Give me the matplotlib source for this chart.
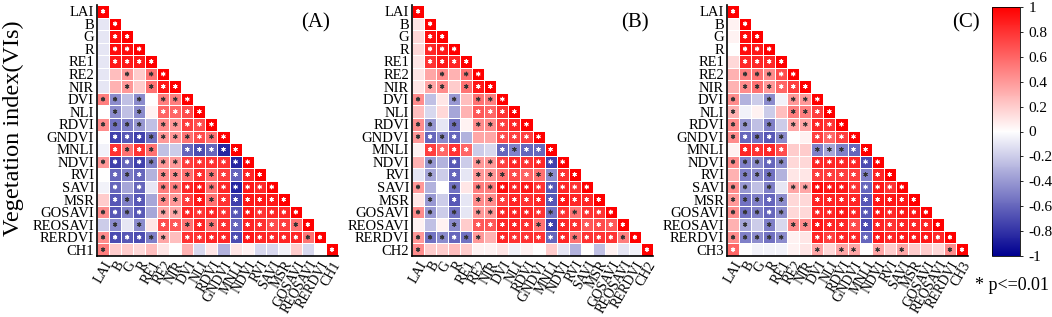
import numpy as np
import matplotlib
matplotlib.use("Agg")
import matplotlib.pyplot as plt
from matplotlib.colors import LinearSegmentedColormap

plt.rcParams['font.family'] = ['Liberation Serif', 'DejaVu Serif']

variables = ['LAI', 'B', 'G', 'R', 'RE1', 'RE2', 'NIR', 'DVI', 'NLI', 'RDVI', 'GNDVI',
             'MNLI', 'NDVI', 'RVI', 'SAVI', 'MSR', 'GOSAVI', 'REOSAVI', 'RERDVI']
ch_names = ['CH1', 'CH2', 'CH3']
panel_tags = ['(A)', '(B)', '(C)']
cbar_ticks = [1, 0.8, 0.6, 0.4, 0.2, 0, -0.2, -0.4, -0.6, -0.8, -1]

# lower-triangle correlations (row i has i values, diagonal = 1)
corr_A = [
    [-0.1],
    [-0.1, 0.95],
    [-0.1, 0.95, 0.95],
    [-0.1, 0.9, 0.9, 0.9],
    [-0.1, 0.25, 0.4, 0.2, 0.55],
    [-0.1, 0.3, 0.4, 0.2, 0.55, 0.9],
    [0.5, -0.45, -0.25, -0.45, 0.0, 0.5, 0.5],
    [0.0, -0.45, -0.25, -0.45, 0.05, 0.6, 0.6, 0.7],
    [0.45, -0.55, -0.5, -0.4, -0.25, 0.45, 0.4, 0.75, 0.7],
    [0.0, -0.75, -0.65, -0.75, -0.55, 0.4, 0.4, 0.55, 0.7, 0.55],
    [-0.05, 0.8, 0.55, 0.8, 0.55, -0.25, -0.2, -0.6, -0.7, -0.6, -0.85],
    [0.4, -0.75, -0.6, -0.75, -0.5, 0.4, 0.4, 0.75, 0.8, 0.8, 0.8, -0.85],
    [0.0, -0.6, -0.5, -0.6, -0.3, 0.45, 0.45, 0.55, 0.8, 0.55, 0.75, -0.6, 0.85],
    [-0.05, -0.6, -0.35, -0.6, -0.1, 0.5, 0.5, 0.85, 0.9, 0.55, 0.85, -0.85, 0.9, 0.85],
    [0.2, -0.65, -0.5, -0.65, -0.35, 0.45, 0.4, 0.75, 0.9, 0.55, 0.8, -0.75, 0.9, 0.9, 0.9],
    [0.45, -0.65, -0.5, -0.65, -0.35, 0.35, 0.35, 0.85, 0.8, 0.85, 0.8, -0.65, 0.9, 0.8, 0.85, 0.85],
    [-0.2, -0.45, -0.1, -0.45, 0.1, 0.7, 0.65, 0.55, 0.85, 0.55, 0.8, -0.6, 0.85, 0.8, 0.7, 0.75, 0.55],
    [0.45, -0.7, -0.65, -0.7, -0.5, 0.35, 0.25, 0.8, 0.8, 0.85, 0.85, -0.7, 0.9, 0.85, 0.85, 0.85, 0.85, 0.55],
    [0.5, 0.2, 0.2, 0.15, 0.25, 0.1, 0.0, 0.3, -0.15, 0.1, -0.3, 0.1, 0.05, -0.15, -0.15, -0.05, 0.2, -0.15, 0.0],
]
sig_A = ["0", "01", "011", "0111", "00101", "001011", "1101011", "01010111", "111101111",
         "0111111111", "01111001111", "111111111111", "0111011111111", "01010111111111",
         "011101111111111", "1111011111111111", "01010111111111111", "111111011111111111",
         "1000000000000000000"]

corr_B = [
    [0.1],
    [0.15, 0.95],
    [0.15, 0.85, 0.9],
    [0.1, 0.8, 0.9, 0.85],
    [0.1, 0.35, 0.45, 0.3, 0.55],
    [0.1, 0.35, 0.45, 0.2, 0.55, 0.9],
    [0.45, -0.25, 0.1, -0.4, 0.25, 0.55, 0.5],
    [0.25, -0.15, 0.15, -0.35, 0.3, 0.65, 0.6, 0.8],
    [0.45, -0.4, -0.1, -0.55, 0.05, 0.45, 0.45, 0.75, 0.85],
    [0.4, -0.6, -0.45, -0.6, -0.3, 0.35, 0.35, 0.7, 0.75, 0.75],
    [0.05, 0.75, 0.6, 0.8, 0.6, -0.2, -0.15, -0.6, -0.5, -0.6, -0.6],
    [0.3, -0.4, -0.3, -0.65, -0.2, 0.4, 0.4, 0.75, 0.85, 0.8, 0.85, -0.75],
    [-0.1, -0.35, -0.2, -0.6, -0.1, 0.4, 0.4, 0.55, 0.7, 0.6, 0.55, -0.45, 0.8],
    [0.4, -0.3, 0.0, -0.55, 0.1, 0.5, 0.5, 0.95, 0.85, 0.9, 0.8, -0.65, 0.85, 0.8],
    [0.1, -0.4, -0.2, -0.65, -0.1, 0.45, 0.45, 0.75, 0.85, 0.8, 0.85, -0.65, 0.9, 0.85, 0.85],
    [0.45, -0.4, -0.2, -0.55, -0.1, 0.4, 0.4, 0.85, 0.85, 0.85, 0.8, -0.55, 0.8, 0.55, 0.8, 0.8],
    [0.05, -0.25, 0.05, -0.45, 0.2, 0.65, 0.65, 0.85, 0.85, 0.8, 0.55, -0.75, 0.85, 0.8, 0.65, 0.7, 0.65],
    [0.4, -0.55, -0.45, -0.6, -0.55, 0.4, 0.3, 0.85, 0.8, 0.8, 0.8, -0.6, 0.85, 0.55, 0.8, 0.8, 0.8, 0.5],
    [0.45, 0.2, 0.2, 0.25, 0.2, 0.05, 0.05, 0.1, -0.05, 0.05, 0.0, 0.2, -0.1, -0.3, 0.0, -0.25, 0.05, -0.1, -0.05],
]
sig_B = ["0", "01", "011", "0111", "00101", "011011", "1001011", "00000111", "110101111",
         "1111000111", "01111001111", "010101111111", "0101011111111", "10010111111111",
         "010101111111111", "1101011111111111", "00010111111111111", "111111011111111111",
         "1000000000000000000"]

corr_C = [
    [0.05],
    [0.05, 0.95],
    [0.0, 0.95, 0.9],
    [0.15, 0.85, 0.85, 0.85],
    [0.3, 0.5, 0.55, 0.45, 0.7],
    [0.3, 0.45, 0.55, 0.4, 0.6, 0.75],
    [0.45, -0.3, -0.2, -0.45, -0.05, 0.4, 0.4],
    [0.3, -0.05, 0.05, -0.2, 0.25, 0.5, 0.5, 0.75],
    [0.45, -0.4, -0.25, -0.5, -0.2, 0.35, 0.35, 0.85, 0.8],
    [0.45, -0.6, -0.55, -0.65, -0.45, 0.0, 0.05, 0.75, 0.6, 0.75],
    [0.05, 0.85, 0.8, 0.85, 0.7, 0.2, 0.2, -0.5, -0.35, -0.5, -0.6],
    [0.45, -0.5, -0.45, -0.6, -0.45, 0.15, 0.15, 0.85, 0.85, 0.85, 0.85, -0.7],
    [0.3, -0.5, -0.45, -0.55, -0.3, 0.1, 0.1, 0.75, 0.75, 0.75, 0.75, -0.5, 0.85],
    [0.45, -0.4, -0.25, -0.5, -0.1, 0.35, 0.35, 0.95, 0.9, 0.9, 0.8, -0.6, 0.9, 0.8],
    [0.4, -0.55, -0.5, -0.6, -0.45, 0.15, 0.15, 0.85, 0.85, 0.85, 0.85, -0.65, 0.9, 0.9, 0.9],
    [0.45, -0.55, -0.5, -0.6, -0.45, 0.15, 0.15, 0.85, 0.85, 0.9, 0.85, -0.65, 0.9, 0.85, 0.9, 0.9],
    [0.3, -0.35, -0.2, -0.5, -0.15, 0.45, 0.45, 0.9, 0.85, 0.85, 0.7, -0.7, 0.85, 0.8, 0.85, 0.85, 0.85],
    [0.45, -0.5, -0.45, -0.55, -0.45, 0.05, 0.1, 0.85, 0.75, 0.85, 0.85, -0.6, 0.9, 0.85, 0.9, 0.9, 0.9, 0.85],
    [0.6, 0.0, -0.05, -0.05, -0.05, 0.05, 0.1, 0.35, 0.15, 0.35, 0.35, 0.0, 0.35, 0.2, 0.35, 0.2, 0.2, 0.15, 0.45],
]
sig_C = ["0", "01", "011", "0111", "01111", "011111", "1001011", "10000111", "110101111",
         "1111100111", "01111001111", "111110011111", "0111000111111", "11010111111111",
         "111110011111111", "1111100111111111", "01010111111111111", "111110011111111111",
         "1000000101101010001"]

cmap = LinearSegmentedColormap.from_list(
    'bwr_custom', [(0.0, '#000090'), (0.5, '#FFFFFF'), (1.0, '#FF0000')])

W, H = 1052, 317
fig = plt.figure(figsize=(W / 100, H / 100), dpi=100)

panel_left = [97, 412, 727]
panel_w = 241
top_px, bottom_px = 5, 256
tag_x = [0.905, 0.925, 0.99]

def build(corr, sig):
    n = len(corr) + 1
    M = np.full((n, n), np.nan)
    S = np.zeros((n, n), dtype=bool)
    for i in range(n):
        M[i, i] = 1.0
        S[i, i] = True
    for i, row in enumerate(corr, start=1):
        for j, v in enumerate(row):
            M[i, j] = v
            S[i, j] = sig[i - 1][j] == '1'
    return M, S

mesh = None
for k, (corr, sig) in enumerate([(corr_A, sig_A), (corr_B, sig_B), (corr_C, sig_C)]):
    M, S = build(corr, sig)
    n = M.shape[0]
    names = variables + [ch_names[k]]
    ax = fig.add_axes([panel_left[k] / W, (H - bottom_px) / H,
                       panel_w / W, (bottom_px - top_px) / H])
    mesh = ax.pcolormesh(np.arange(n + 1), np.arange(n + 1), np.ma.masked_invalid(M),
                         cmap=cmap, vmin=-1, vmax=1, edgecolors='white', linewidth=0.6)
    ys, xs = np.nonzero(S)
    vals = M[ys, xs]
    cols = ['white' if abs(v) >= 0.6 else '#333333' for v in vals]
    ax.scatter(xs + 0.5, ys + 0.5, marker=(6, 2, 0), s=8, c=cols, linewidths=0.6)
    ax.set_xlim(0, n)
    ax.set_ylim(n, 0)
    ax.set_xticks(np.arange(n) + 0.5)
    ax.set_yticks(np.arange(n) + 0.5)
    ax.set_xticklabels(names, rotation=60, ha='right', rotation_mode='anchor', fontsize=10)
    ax.set_yticklabels(names, fontsize=10.5)
    ax.tick_params(length=0, pad=2)
    for s in ['top', 'right']:
        ax.spines[s].set_visible(False)
    for s in ['left', 'bottom']:
        ax.spines[s].set_linewidth(1.2)
    ax.text(tag_x[k], 0.93, panel_tags[k], transform=ax.transAxes, fontsize=15,
            ha='center', va='center')

fig.text(13 / W, 1 - 128 / H, 'Vegetation index(VIs)', rotation=90, fontsize=17.5,
         ha='center', va='center')

cax = fig.add_axes([992 / W, (H - 256) / H, 28 / W, 249 / H])
cb = fig.colorbar(mesh, cax=cax, ticks=cbar_ticks)
cb.ax.set_yticklabels([f'{t:g}' for t in cbar_ticks], fontsize=11)
cb.ax.tick_params(length=2.5, width=0.6)
cb.outline.set_linewidth(0.6)

fig.text(975 / W, 1 - 285 / H, '* p<=0.01', fontsize=13, ha='left', va='center')

fig.savefig('out.png', dpi=100)
